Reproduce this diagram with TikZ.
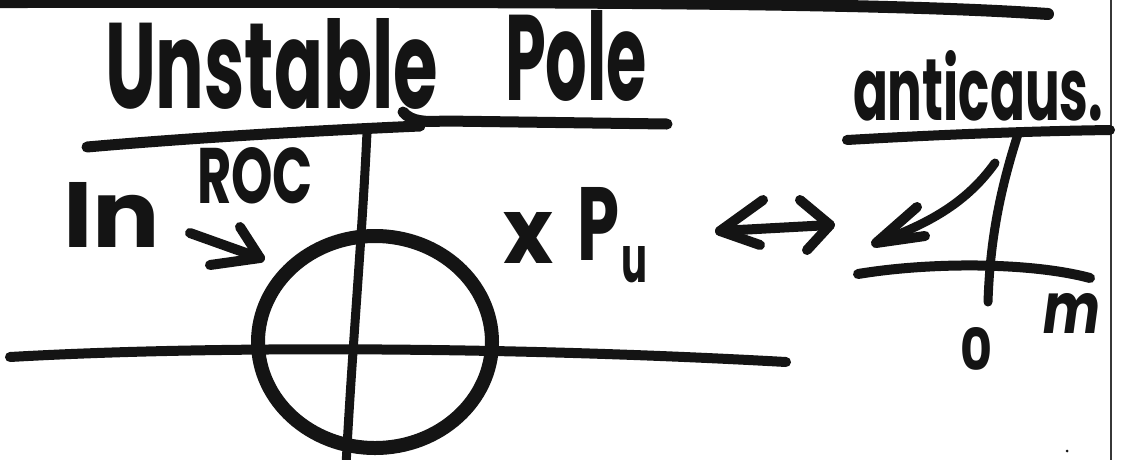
\documentclass[tikz,border=0pt]{standalone}
\usepackage{fontspec}
\setmainfont{Poppins}
\usetikzlibrary{shapes.geometric}
\definecolor{ink}{HTML}{141414}
\tikzset{
  marker/.style={draw=ink, line width=#1, line cap=round, line join=round},
  marker/.default=10pt,
  hand/.style={inner sep=0pt, outer sep=0pt, anchor=base west, text=ink, font=\bfseries},
}
\newcommand{\fitbox}[3]{\resizebox{#1pt}{#2pt}{#3}}
\begin{document}
\begin{tikzpicture}[x=1pt,y=-1pt]
\useasboundingbox[fill=white] (0,0) rectangle (1122,459);

% torn top edge line and right border
\draw[marker=12pt] (-10,2) .. controls (400,2) and (850,0) .. (1048,14);
\draw[draw=ink!85, line width=2.5pt] (1111,-5) -- (1111,465);

% title
\node[hand] (unstable) at (105,108) {\fitbox{333}{90}{Unstable}};
\node[hand] (pole) at (505,100) {\fitbox{142}{90}{Pole}};
\draw[marker=11pt] (87,147) .. controls (200,137) and (330,130) .. (420,126);
\draw[marker=11pt] (403,112) .. controls (412,122) and (425,122) .. (445,121) -- (667,124);

% left pole-zero plot
\coordinate (imtop) at (367,132);
\coordinate (imbot) at (346,466);
\coordinate (reL) at (10,357);
\coordinate (reR) at (786,362);
\draw[marker=9pt] (imtop) .. controls (362,240) and (352,350) .. (imbot);
\draw[marker=10pt] (reL) .. controls (200,346) and (500,346) .. (reR);
\node[draw=ink, line width=14pt, ellipse, minimum width=234pt, minimum height=212pt, inner sep=0pt] (roc) at (375,342) {};

\node[hand] (in) at (63,247) {\fitbox{97}{65}{In}};
\node[hand] (roctext) at (197,203) {\fitbox{116}{56}{ROC}};
\coordinate (inarrowS) at (190,233);
\coordinate (inarrowT) at (260,258);
\draw[marker=10pt] (inarrowS) -- (inarrowT);
\draw[marker=10pt] (240,227) -- (inarrowT) -- (210,265);

% pole label
\node[hand] (polemark) at (503,263) {\fitbox{50}{51}{x}};
\node[hand] (plabel) at (577,260) {\fitbox{42}{73}{P}};
\node[hand] (psub) at (621,282) {\fitbox{26}{36}{u}};

% double arrow
\coordinate (dl) at (720,231);
\coordinate (dr) at (830,225);
\draw[marker=10pt] (dl) -- (dr);
\draw[marker=10pt] (763,200) -- (dl) -- (760,245);
\draw[marker=10pt] (800,200) -- (dr) -- (807,250);

% right plot
\node[hand] (anticaus) at (853,120) {\fitbox{250}{70}{anticaus.}};
\draw[marker=10pt] (847,140) .. controls (950,134) and (1040,131) .. (1110,130);
\coordinate (ntop) at (1018,134);
\coordinate (nbot) at (988,302);
\draw[marker=9pt] (ntop) .. controls (1000,190) and (990,240) .. (nbot);
\draw[marker=10pt] (858,274) .. controls (930,262) and (1030,262) .. (1090,278);
\coordinate (cstart) at (995,163);
\coordinate (ctip) at (876,243);
\draw[marker=9pt] (cstart) .. controls (965,205) and (925,225) .. (ctip);
\draw[marker=10pt] (917,207) -- (ctip) -- (925,236);
\node[hand] (zero) at (960,370) {\fitbox{32}{43}{0}};
\node[hand] (mlabel) at (1043,333) {\fitbox{57}{40}{\itshape m}};
\fill[ink] (1067,451) circle (1.5pt);
\end{tikzpicture}
\end{document}
